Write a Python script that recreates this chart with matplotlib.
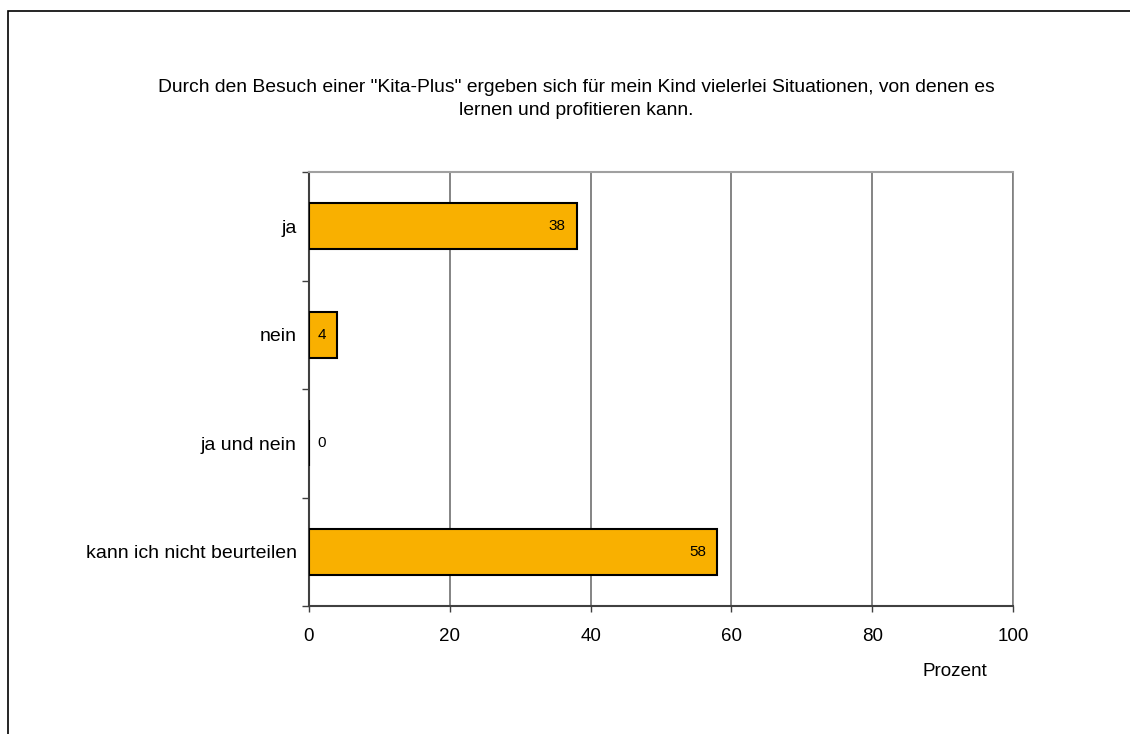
import matplotlib
matplotlib.use("Agg")
from matplotlib import pyplot as plt
from matplotlib.patches import Rectangle

plt.rcParams['font.family'] = ['Liberation Sans', 'DejaVu Sans']

# answers and percent values
kategorien = ['ja', 'nein', 'ja und nein', 'kann ich nicht beurteilen']
prozent = [38, 4, 0, 58]
x_ticks = [0, 20, 40, 60, 80, 100]
titel = ('Durch den Besuch einer "Kita-Plus" ergeben sich f\u00fcr mein Kind vielerlei Situationen, von denen es\n'
         'lernen und profitieren kann.')

fig = plt.figure(figsize=(11.3, 7.34), dpi=100)
ax = fig.add_axes([309 / 1130, 1 - 606 / 734, (1013 - 309) / 1130, (606 - 172) / 734])

# frame round the figure (only top and left visible in the original)
fig.patches.append(Rectangle((8 / 1130, -0.1), 1.2, 1 - 11 / 734 + 0.1, transform=fig.transFigure,
                             fill=False, edgecolor='black', linewidth=1.2))

pos = list(range(len(kategorien)))
ax.barh(pos, prozent, height=0.42, color='#F9B000', edgecolor='black', linewidth=1.5, zorder=3)

for p, v in zip(pos, prozent):
    if v >= 10:
        ax.annotate(str(v), (v, p), xytext=(-8, 0), textcoords='offset points',
                    ha='right', va='center', fontsize=11, zorder=4)
    else:
        ax.annotate(str(v), (0, p), xytext=(6, 0), textcoords='offset points',
                    ha='left', va='center', fontsize=11, zorder=4)

ax.set_xlim(0, 100)
ax.set_ylim(len(kategorien) - 0.5, -0.5)
ax.set_xticks(x_ticks)
ax.set_xticklabels([str(t) for t in x_ticks], fontsize=13.5)
ax.set_yticks(pos)
ax.set_yticklabels(kategorien, fontsize=14)
ax.set_yticks([i - 0.5 for i in range(len(kategorien) + 1)], minor=True)
ax.tick_params(axis='y', which='major', length=0, pad=9)
ax.tick_params(axis='y', which='minor', length=5, width=1, color='#404040')
ax.tick_params(axis='x', length=4, width=1, color='#404040', pad=12)

ax.grid(axis='x', color='#707070', linewidth=1.2, zorder=0)
ax.spines['top'].set_color('#a0a0a0')
ax.spines['top'].set_linewidth(1.5)
ax.spines['right'].set_color('#808080')
ax.spines['right'].set_linewidth(1.2)
ax.spines['left'].set_color('#404040')
ax.spines['left'].set_linewidth(1.5)
ax.spines['bottom'].set_color('#404040')
ax.spines['bottom'].set_linewidth(1.5)

fig.text(576 / 1130, 1 - 79 / 734, titel, ha='center', va='top', fontsize=13.9, linespacing=1.45)
fig.text(955 / 1130, 1 - 672 / 734, 'Prozent', ha='center', va='center', fontsize=13.6)

fig.savefig('out.png', dpi=100)
